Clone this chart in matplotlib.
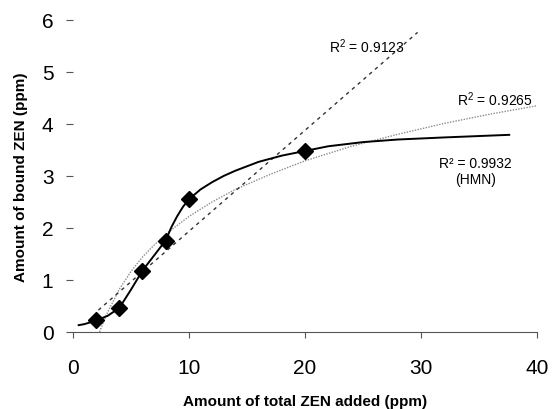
import matplotlib
matplotlib.use("Agg")
import matplotlib.pyplot as plt

plt.rcParams['font.family'] = ['Liberation Sans', 'DejaVu Sans']
plt.rcParams['mathtext.default'] = 'regular'

# measured points
zen_total = [2, 4, 6, 8, 10, 20]
zen_bound = [0.22, 0.46, 1.18, 1.75, 2.55, 3.48]

# HMN fit (solid)
hmn_x = [0.5, 1, 2, 3, 4, 5, 6, 7, 8, 8.5, 9, 9.5, 10, 11, 12, 13, 14, 16, 18, 20,
         22, 25, 28, 32, 37.6]
hmn_y = [0.13, 0.15, 0.22, 0.31, 0.46, 0.81, 1.18, 1.47, 1.76, 2.02, 2.23, 2.41, 2.55,
         2.74, 2.88, 3.00, 3.10, 3.27, 3.39, 3.48, 3.57, 3.65, 3.70, 3.74, 3.79]

# linear fit (dashed)
lin_x = [2.2, 29.7]
lin_y = [0.42, 5.76]

# log fit (grey dotted)
log_x = [2.3, 2.6, 3, 4, 5, 6, 7, 8, 10, 12, 14, 17, 20, 24, 28, 32, 36, 40]
log_y = [0.0, 0.17, 0.38, 0.82, 1.16, 1.44, 1.67, 1.88, 2.22, 2.50, 2.74, 3.03,
         3.29, 3.57, 3.80, 4.01, 4.19, 4.35]

fig = plt.figure(figsize=(5.52, 4.10), dpi=100)
ax = fig.add_axes([0.132, 0.188, 0.841, 0.761])

ax.plot(log_x, log_y, color='#8c8c8c', lw=1.0, ls=(0, (1, 1)))
ax.plot(lin_x, lin_y, color='#333333', lw=1.0, ls=(0, (2.5, 3)))
ax.plot(hmn_x, hmn_y, color='black', lw=1.4)
ax.plot(zen_total, zen_bound, ls='none', marker='D', ms=8, color='black')

ax.text(25.3, 5.5, r'R$^2$ = 0.9123', ha='center', va='center', fontsize=10)
ax.text(36.4, 4.48, r'R$^2$ = 0.9265', ha='center', va='center', fontsize=10)
ax.text(34.7, 3.1, 'R² = 0.9932\n(HMN)', ha='center', va='center', fontsize=10,
        linespacing=1.2)

ax.set_xlim(0, 40)
ax.set_ylim(0, 6)
ax.set_xticks([0, 10, 20, 30, 40])
ax.set_yticks([0, 1, 2, 3, 4, 5, 6])

for s in ['top', 'right', 'left']:
    ax.spines[s].set_visible(False)
ax.spines['bottom'].set_color('#555555')
ax.tick_params(axis='y', direction='out', length=5, width=0.8, color='#555555',
               pad=9, labelsize=15)
ax.tick_params(axis='x', direction='out', length=4, width=0.8, color='#555555',
               pad=15, labelsize=15)

ax.set_xlabel('Amount of total ZEN added (ppm)', fontsize=11, fontweight='bold', labelpad=12)
ax.set_ylabel('Amount of bound ZEN (ppm)', fontsize=11, fontweight='bold', labelpad=10)

fig.savefig('out.png', dpi=100)
